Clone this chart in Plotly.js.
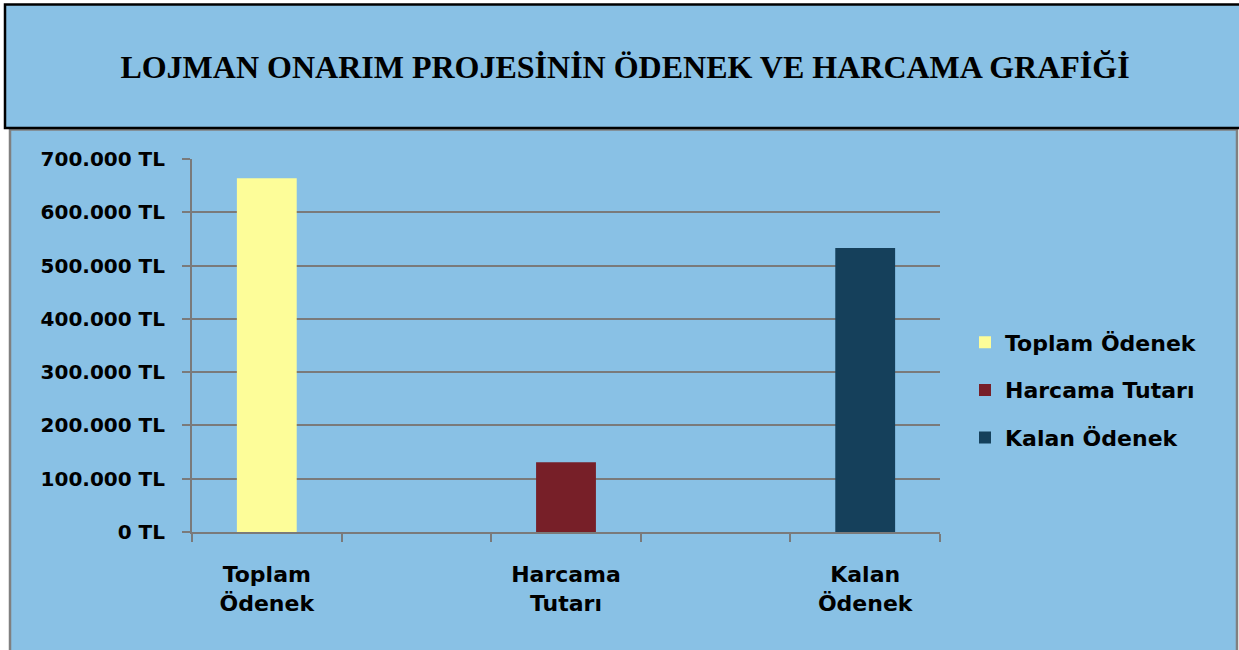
<!DOCTYPE html>
<html>
<head>
<meta charset="utf-8">
<script src="https://cdn.plot.ly/plotly-3.0.1.min.js"></script>
<style>html,body{margin:0;padding:0;background:#fff;overflow:hidden;}</style>
</head>
<body>
<div id="chart" style="width:1239px;height:650px;"></div>
<script>
const categories = ['Toplam Ödenek', 'Harcama Tutarı', 'Kalan Ödenek'];
const tickLabels = ['Toplam<br>Ödenek', 'Harcama<br>Tutarı', 'Kalan<br>Ödenek'];
const values = [664000, 131000, 533000];
const colors = ['#FDFD99', '#771F28', '#15405B'];
const yTicks = [0, 100000, 200000, 300000, 400000, 500000, 600000, 700000];

const BG = '#89C1E5';
const GRID = '#7A7A7A';
const FONT = 'DejaVu Sans, sans-serif';

const fmtTL = v => String(v).replace(/\B(?=(\d{3})+(?!\d))/g, '.') + ' TL';
const yTickText = yTicks.map(fmtTL);

const xs = categories.map((_, i) => 2 * i + 0.5);
const boundaries = [0, 1, 2, 3, 4, 5];

const traces = categories.map((c, i) => ({
  type: 'bar',
  name: c,
  x: [xs[i]],
  y: [values[i]],
  width: 0.4,
  marker: {color: colors[i], line: {width: 0}},
  legendgroup: 'g' + i,
  hoverinfo: 'name+y'
}));

// plot area pixel geometry
const L = 192, R = 940, T = 159, B = 532;
const px = p => (p - L) / (R - L);
const py = p => (B - p) / (B - T);
const P = (x, y) => px(x) + ' ' + py(y);

const titleBoxPath = 'M ' + P(1300, 4.5) + ' L ' + P(5, 4.5) + ' L ' + P(5, 128) + ' L ' + P(1300, 128);
const chartBoxPath = 'M ' + P(10, 700) + ' L ' + P(10, 129.5) + ' L ' + P(1237, 129.5) + ' L ' + P(1237, 700);

const layout = {
  width: 1239, height: 650,
  margin: {l: L, r: 1239 - R, t: T, b: 650 - B, pad: 0},
  paper_bgcolor: '#ffffff',
  plot_bgcolor: 'rgba(0,0,0,0)',
  barmode: 'overlay',
  showlegend: true,
  title: {
    text: '<b>LOJMAN ONARIM PROJESİNİN ÖDENEK VE HARCAMA GRAFİĞİ</b>',
    font: {family: 'Liberation Serif, Times New Roman, serif', size: 32, color: '#000'},
    xref: 'container', yref: 'container',
    x: 625 / 1239, xanchor: 'center',
    y: 1 - 67 / 650, yanchor: 'middle'
  },
  xaxis: {
    range: [0, 5],
    tickmode: 'array',
    tickvals: xs,
    ticktext: tickLabels,
    ticks: 'outside', ticklen: 8, tickcolor: 'rgba(0,0,0,0)',
    tickfont: {family: FONT, size: 22, color: '#000', weight: 'bold'},
    ticklabelstandoff: 14,
    showgrid: false, zeroline: false,
    showline: true, linecolor: GRID, linewidth: 2,
    minor: {tickmode: 'array', tickvals: boundaries, ticks: 'outside', ticklen: 8, tickcolor: GRID, tickwidth: 2, showgrid: false},
    fixedrange: true
  },
  yaxis: {
    range: [0, 700000],
    tickmode: 'array',
    tickvals: yTicks,
    ticktext: yTickText,
    ticks: 'outside', ticklen: 8, tickcolor: GRID, tickwidth: 2,
    tickfont: {family: FONT, size: 20, color: '#000', weight: 'bold'},
    showgrid: true, gridcolor: GRID, gridwidth: 2,
    zeroline: false,
    showline: true, linecolor: GRID, linewidth: 2,
    ticklabelstandoff: 13,
    fixedrange: true
  },
  legend: {
    x: px(965), xanchor: 'left',
    y: py(390), yanchor: 'middle',
    bgcolor: 'rgba(0,0,0,0)', borderwidth: 0,
    traceorder: 'grouped', tracegroupgap: 16,
    font: {family: FONT, size: 22, color: '#000', weight: 'bold'}
  },
  shapes: [
    {type: 'rect', xref: 'paper', yref: 'paper', layer: 'below',
     x0: px(10), x1: px(1237), y0: py(700), y1: py(129.5),
     fillcolor: BG, line: {width: 0}},
    {type: 'rect', xref: 'paper', yref: 'paper', layer: 'below',
     x0: px(5), x1: px(1300), y0: py(128), y1: py(4.5),
     fillcolor: BG, line: {width: 0}},
    {type: 'path', xref: 'paper', yref: 'paper', layer: 'below',
     path: chartBoxPath, line: {color: '#808080', width: 2.5}},
    {type: 'path', xref: 'paper', yref: 'paper', layer: 'below',
     path: titleBoxPath, line: {color: '#000000', width: 2.5}}
  ]
};

Plotly.newPlot('chart', traces, layout, {displayModeBar: false, staticPlot: true});
</script>
</body>
</html>
